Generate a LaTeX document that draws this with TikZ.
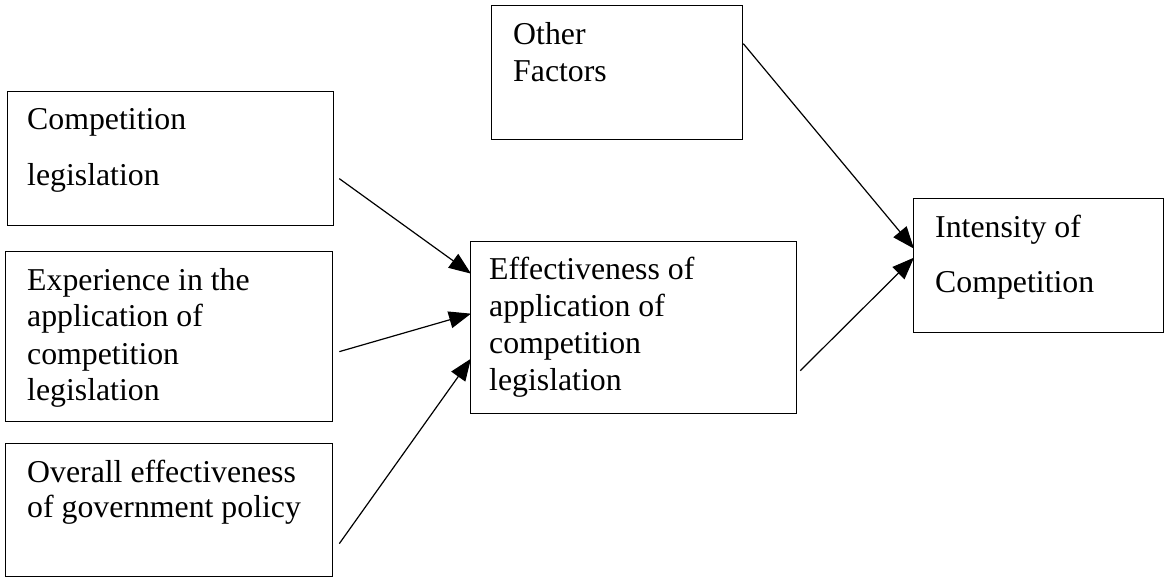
\documentclass[tikz,border=0pt]{standalone}
\usepackage{fontspec}
\setmainfont{Liberation Serif}
\usetikzlibrary{arrows.meta,calc}
\begin{document}
\begin{tikzpicture}[x=1pt,y=-1pt,
  box/.style={draw, line width=1.3pt, inner sep=0pt, anchor=north west},
  txt/.style={anchor=base west, inner sep=0pt, font=\fontsize{31.8}{36}\selectfont},
  arr/.style={line width=1.2pt, -{Triangle[length=22pt,width=17pt]}}]
\useasboundingbox (0,0) rectangle (1165,577);
% boxes
\node[box, minimum width=326pt, minimum height=134pt] (comp) at (7,91) {};
\node[box, minimum width=327pt, minimum height=170pt] (exp) at (5,251) {};
\node[box, minimum width=327pt, minimum height=133pt] (over) at (5,443) {};
\node[box, minimum width=326pt, minimum height=172pt] (eff) at (470,241) {};
\node[box, minimum width=251pt, minimum height=134pt] (other) at (491,5) {};
\node[box, minimum width=250pt, minimum height=134pt] (inten) at (913,198) {};
% texts
\node[txt] (c1) at (27,130) {Competition};
\node[txt] (c2) at (27,186) {legislation};
\node[txt] (e1) at (27,291) {Experience in the};
\node[txt] (e2) at (27,327) {application of};
\node[txt] (e3) at (27,364) {competition};
\node[txt] (e4) at (27,400) {legislation};
\node[txt] (o1) at (27,482) {Overall effectiveness};
\node[txt] (o2) at (27,517) {of government policy};
\node[txt] (f1) at (489,280) {Effectiveness of};
\node[txt] (f2) at (489,317) {application of};
\node[txt] (f3) at (489,353) {competition};
\node[txt] (f4) at (489,390) {legislation};
\node[txt] (t1) at (513,45) {Other};
\node[txt] (t2) at (513,82) {Factors};
\node[txt] (i1) at (935,238) {Intensity of};
\node[txt] (i2) at (935,293) {Competition};
% connectors
\draw[arr] ($(comp.east)+(5,20)$) -- ($(eff.west)+(1,-54)$);
\draw[arr] ($(exp.east)+(6,15)$) -- ($(eff.west)+(1,-14)$);
\draw[arr] ($(over.east)+(6,33.5)$) -- ($(eff.west)+(1,31)$);
\draw[arr] ($(eff.east)+(3,43)$) -- ($(inten.west)+(1,-8)$);
\draw[arr] ($(other.east)+(0,-29)$) -- ($(inten.west)+(1,-17)$);
\end{tikzpicture}
\end{document}
